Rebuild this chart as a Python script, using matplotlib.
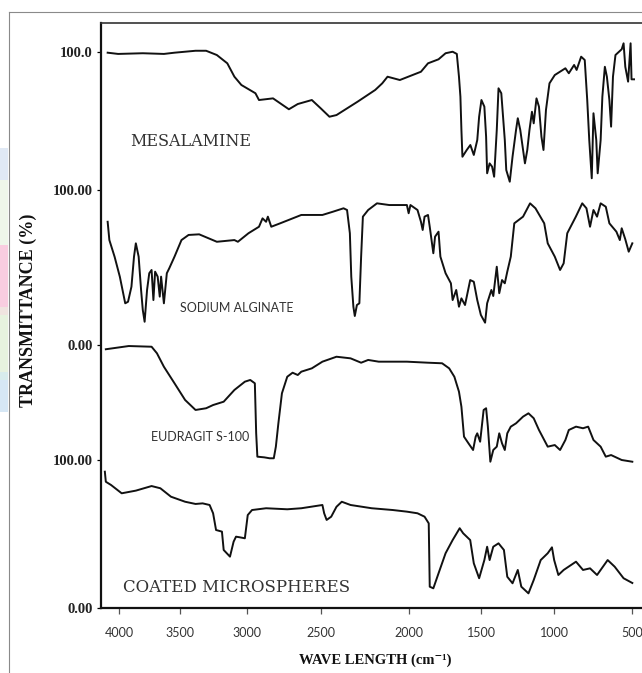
import numpy as np
import matplotlib
matplotlib.use("Agg")
import matplotlib.pyplot as plt
from matplotlib.lines import Line2D
from matplotlib.patches import Rectangle

# FTIR spectra: wavenumber (cm-1) and transmittance (%) for each sample
mesalamine_wn = [4093, 4007, 3805, 3632, 3545, 3384, 3305, 3225, 3147, 3094,
                 3042, 2943, 2919, 2824, 2717, 2657, 2562, 2502, 2452, 2412,
                 2292, 2192, 2152, 2122, 2052, 1917, 1868, 1795, 1746, 1697,
                 1668, 1653, 1643, 1636, 1629, 1599, 1574, 1550, 1526, 1513,
                 1497, 1477, 1465, 1458, 1441, 1424, 1410, 1392, 1380, 1361,
                 1337, 1327, 1303, 1284, 1260, 1248, 1231, 1199, 1183, 1168,
                 1151, 1139, 1120, 1103, 1086, 1072, 1055, 1031, 995, 927,
                 905, 871, 855, 826, 803, 787, 774, 758, 747, 729,
                 720, 701, 690, 674, 661, 645, 634, 622, 606, 566,
                 554, 543, 525, 509, 503, 487]
mesalamine_t = [99.5, 98.6, 99.1, 98.6, 99.5, 100.9, 100.9, 97.8, 91.8, 82.1,
                76.1, 70.1, 65.2, 66.4, 58.5, 62.3, 65.2, 59.2, 53.1, 54.3,
                64.0, 72.5, 77.3, 82.1, 79.7, 85.7, 91.8, 94.7, 99.1, 100.2,
                98.6, 82.1, 67.6, 43.5, 24.1, 29.0, 32.6, 25.4, 36.2, 53.1,
                65.2, 60.4, 38.6, 12.1, 19.3, 16.9, 9.6, 43.5, 73.7, 70.1,
                36.2, 14.5, 6.0, 24.1, 43.5, 52.0, 43.5, 19.3, 29.0, 43.5,
                56.7, 48.3, 66.4, 60.4, 38.6, 29.0, 58.0, 77.3, 83.3, 88.2,
                84.6, 90.6, 87.0, 96.6, 94.2, 65.2, 36.2, 8.5, 55.6, 36.2,
                12.1, 36.2, 67.6, 89.3, 82.1, 65.2, 45.9, 82.1, 97.8, 102.0,
                106.3, 89.3, 78.5, 106.3, 80.2, 80.2]

alginate_wn = [4093, 4079, 4036, 3993, 3949, 3926, 3898, 3877, 3862, 3839,
               3819, 3805, 3790, 3770, 3752, 3733, 3718, 3704, 3683, 3666,
               3655, 3632, 3608, 3588, 3545, 3489, 3436, 3357, 3225, 3094,
               3068, 2990, 2919, 2895, 2871, 2859, 2836, 2776, 2633, 2492,
               2432, 2372, 2352, 2336, 2328, 2316, 2308, 2296, 2282, 2272,
               2262, 2232, 2182, 2112, 2012, 2002, 1990, 1941, 1917, 1905,
               1892, 1868, 1856, 1831, 1819, 1795, 1782, 1746, 1709, 1697,
               1672, 1653, 1636, 1611, 1575, 1550, 1526, 1501, 1472, 1458,
               1429, 1416, 1392, 1375, 1356, 1337, 1320, 1296, 1272, 1212,
               1164, 1127, 1067, 1043, 995, 961, 938, 915, 860, 819,
               792, 769, 747, 724, 701, 668, 645, 600, 578, 566,
               543, 521, 498]
alginate_t = [79.5, 67.7, 56.9, 44.0, 26.9, 27.9, 37.6, 57.0, 65.6, 57.0,
              35.5, 22.6, 15.0, 35.5, 46.3, 48.4, 29.0, 47.3, 44.1, 31.2,
              44.1, 26.9, 46.3, 49.5, 57.0, 67.7, 71.0, 71.4, 66.6, 67.7,
              66.6, 72.1, 76.3, 81.7, 79.5, 82.8, 76.3, 78.5, 83.9, 83.9,
              86.0, 88.2, 87.1, 72.1, 44.1, 24.7, 18.7, 25.8, 26.9, 57.0,
              82.8, 87.1, 91.4, 90.3, 90.3, 85.0, 90.3, 87.1, 79.5, 74.2,
              82.8, 83.9, 76.3, 59.2, 69.9, 73.1, 57.0, 46.3, 39.8, 29.0,
              35.5, 24.7, 30.1, 25.8, 41.9, 40.8, 29.0, 19.4, 14.4, 26.9,
              35.5, 31.6, 50.5, 33.4, 41.9, 39.8, 47.3, 57.0, 78.5, 82.8,
              91.4, 88.2, 78.5, 65.6, 57.0, 48.4, 52.7, 72.1, 82.8, 91.4,
              88.2, 76.3, 87.1, 82.8, 91.4, 89.2, 78.5, 73.1, 67.7, 75.3,
              68.2, 60.2, 65.6]

eudragit_wn = [4108, 3920, 3733, 3689, 3632, 3545, 3462, 3384, 3305, 3253,
               3174, 3094, 3016, 2978, 2947, 2938, 2930, 2883, 2847, 2819,
               2805, 2788, 2764, 2728, 2692, 2657, 2633, 2562, 2492, 2412,
               2332, 2272, 2232, 2172, 2012, 1868, 1770, 1721, 1685, 1653,
               1636, 1618, 1587, 1555, 1537, 1526, 1506, 1482, 1465, 1453,
               1436, 1416, 1392, 1375, 1356, 1337, 1320, 1296, 1260, 1212,
               1175, 1139, 1103, 1043, 995, 961, 927, 905, 859, 814,
               781, 747, 701, 668, 634, 566, 498]
eudragit_t = [96.3, 99.1, 98.5, 92.8, 81.1, 66.7, 52.2, 43.5, 45.0, 47.8,
              50.7, 60.9, 68.1, 69.6, 66.7, 23.2, 2.9, 2.3, 1.5, 1.5,
              11.6, 31.9, 58.0, 72.4, 75.9, 73.9, 76.8, 79.7, 85.5, 89.8,
              88.4, 84.6, 87.0, 85.5, 85.5, 84.6, 84.1, 79.7, 72.4, 59.4,
              46.3, 20.3, 14.5, 8.7, 20.3, 23.2, 15.9, 43.5, 45.0, 29.0,
              -1.5, 8.7, 11.6, 23.2, 14.5, 8.7, 23.2, 29.0, 31.9, 37.7,
              40.6, 36.3, 26.1, 11.6, 13.0, 8.7, 17.4, 26.1, 29.0, 27.6,
              29.0, 17.4, 11.6, 2.9, 4.3, 0.0, -1.5]

coated_wn = [4116, 4108, 4065, 3978, 3862, 3733, 3661, 3574, 3462, 3384,
             3331, 3279, 3253, 3231, 3187, 3174, 3127, 3100, 3082, 3056,
             3016, 2995, 2966, 2871, 2728, 2633, 2492, 2482, 2468, 2442,
             2412, 2382, 2332, 2212, 2092, 2012, 1941, 1892, 1863, 1856,
             1831, 1795, 1746, 1697, 1648, 1624, 1575, 1550, 1513, 1477,
             1458, 1441, 1416, 1380, 1343, 1320, 1284, 1248, 1224, 1175,
             1139, 1091, 1043, 1014, 999, 972, 938, 859, 814, 769,
             724, 656, 611, 554, 498]
coated_t = [92.1, 85.3, 83.1, 77.5, 79.3, 82.4, 80.9, 75.2, 71.8, 70.3,
            70.7, 69.6, 64.0, 52.7, 51.6, 39.2, 34.7, 44.8, 48.2, 47.8,
            47.1, 62.8, 66.2, 67.4, 66.7, 67.4, 69.6, 64.0, 59.5, 61.7,
            68.4, 71.8, 69.6, 67.4, 66.2, 65.1, 64.0, 61.7, 57.2, 14.4,
            13.3, 23.4, 37.0, 45.9, 53.9, 50.5, 45.9, 30.2, 20.1, 32.4,
            41.4, 32.4, 41.4, 43.7, 39.2, 21.1, 16.7, 25.7, 14.4, 9.9,
            18.9, 32.4, 37.0, 41.0, 32.4, 22.3, 25.7, 31.3, 25.7, 26.8,
            22.3, 32.4, 27.9, 20.1, 16.9]

x_ticks = [4000, 3500, 3000, 2500, 2000, 1500, 1000, 500]
y_tick_labels = ["0.00", "100.00", "0.00", "100.00", "100.0"]

# stacking: (baseline, height of 100 %) for each trace in offset units
stack = {
    "mesalamine": (418, 138),
    "alginate": (263, 155),
    "eudragit": (148, 115),
    "coated": (0, 148),
}
y_tick_pos = [0, 148, 263, 418, 556]

# the printed wavenumber axis is not uniform; warp it piecewise
warp_wn = np.array([500, 1000, 1500, 2000, 2500, 3000, 3500, 4000], float)
warp_pos = np.array([632, 554, 481, 409, 321, 247, 180, 119], float)


def _warp(wn):
    wn = np.asarray(wn, float)
    pos = np.interp(wn, warp_wn, warp_pos)
    s_lo = (warp_pos[1] - warp_pos[0]) / (warp_wn[1] - warp_wn[0])
    s_hi = (warp_pos[-1] - warp_pos[-2]) / (warp_wn[-1] - warp_wn[-2])
    pos = np.where(wn < warp_wn[0], warp_pos[0] + (wn - warp_wn[0]) * s_lo, pos)
    pos = np.where(wn > warp_wn[-1], warp_pos[-1] + (wn - warp_wn[-1]) * s_hi, pos)
    return pos


def _unwarp(pos):
    pos = np.asarray(pos, float)
    p, w = warp_pos[::-1], warp_wn[::-1]
    wn = np.interp(pos, p, w)
    s_lo = (w[1] - w[0]) / (p[1] - p[0])
    s_hi = (w[-1] - w[-2]) / (p[-1] - p[-2])
    wn = np.where(pos < p[0], w[0] + (pos - p[0]) * s_lo, wn)
    wn = np.where(pos > p[-1], w[-1] + (pos - p[-1]) * s_hi, wn)
    return wn


# increasing version for FuncScale; the axis itself runs high -> low
def fwd(wn):
    return -_warp(wn)


def inv(v):
    return _unwarp(-np.asarray(v, float))


SERIF = ["Liberation Serif", "DejaVu Serif"]
SANS = ["Lato", "DejaVu Sans"]

W, H = 642, 673
fig = plt.figure(figsize=(W / 100, H / 100), dpi=100)
fig.patch.set_facecolor("white")

# page frame and coloured strip at the left edge
fig.add_artist(Line2D([9 / W, 1], [1 - 12 / H] * 2, transform=fig.transFigure,
                      color="#8a8a8a", lw=0.8))
fig.add_artist(Line2D([9 / W] * 2, [0, 1 - 12 / H], transform=fig.transFigure,
                      color="#8a8a8a", lw=0.8))
strip = [(148, 180, "#e0e9f5"), (180, 245, "#eef6ea"), (245, 307, "#f9cde0"),
         (307, 315, "#f0e4e0"), (315, 372, "#e7f2df"), (372, 380, "#d8ecec"),
         (380, 412, "#d6e7f5")]
for top, bot, col in strip:
    fig.add_artist(Rectangle((0, 1 - bot / H), 8 / W, (bot - top) / H,
                             transform=fig.transFigure, color=col, lw=0))

ax = fig.add_axes([101 / W, (H - 608) / H, (W - 101) / W, (608 - 23) / H])
ax.set_xscale("function", functions=(fwd, inv))
ax.set_xlim(float(_unwarp(101)), float(_unwarp(642)))
ax.set_ylim(0, 585)

for key, wn, t in [("mesalamine", mesalamine_wn, mesalamine_t),
                   ("alginate", alginate_wn, alginate_t),
                   ("eudragit", eudragit_wn, eudragit_t),
                   ("coated", coated_wn, coated_t)]:
    base, span = stack[key]
    y = base + np.array(t) / 100.0 * span
    ax.plot(wn, y, color="#111111", lw=1.4, solid_joinstyle="round")

ax.set_xticks(x_ticks)
ax.set_xticklabels([str(v) for v in x_ticks])
ax.minorticks_off()
ax.set_yticks(y_tick_pos)
ax.set_yticklabels(y_tick_labels)
ax.tick_params(axis="x", direction="out", length=4, width=0.9, color="#555555",
               pad=10, labelsize=9, labelcolor="#333333")
ax.tick_params(axis="y", direction="out", length=3, width=0.9, pad=3)
for lab in ax.get_xticklabels():
    lab.set_family(SANS)
for lab in ax.get_yticklabels():
    lab.set_family(SERIF)
    lab.set_fontweight("bold")
    lab.set_fontsize(10.5)
    lab.set_color("#222222")

for side in ("left", "bottom"):
    ax.spines[side].set_linewidth(1.6)
    ax.spines[side].set_color("#111111")
ax.spines["top"].set_linewidth(1.2)
ax.spines["top"].set_color("#333333")
ax.spines["right"].set_visible(False)

# sample names
ax.text(0.0536, 0.7966, "MESALAMINE", transform=ax.transAxes, family=["DejaVu Serif"],
        fontsize=11.5, color="#333333", va="center")
ax.text(0.146, 0.5128, "SODIUM ALGINATE", transform=ax.transAxes, family=SANS,
        fontsize=9, color="#333333", va="center")
ax.text(0.0924, 0.2923, "EUDRAGIT S-100", transform=ax.transAxes, family=SANS,
        fontsize=9, color="#333333", va="center")
ax.text(0.0407, 0.0342, "COATED MICROSPHERES", transform=ax.transAxes,
        family=["DejaVu Serif"], fontsize=12, color="#333333", va="center")

fig.text(375 / W, 1 - 660 / H, "WAVE LENGTH (cm\u207b\u00b9)", family=SERIF,
         fontweight="bold", fontsize=10.5, ha="center", va="center", color="#111111")
fig.text(28 / W, 1 - 310 / H, "TRANSMITTANCE (%)", family=SERIF, fontweight="bold",
         fontsize=13, rotation=90, ha="center", va="center", color="#111111")

fig.savefig("out.png", dpi=100)
